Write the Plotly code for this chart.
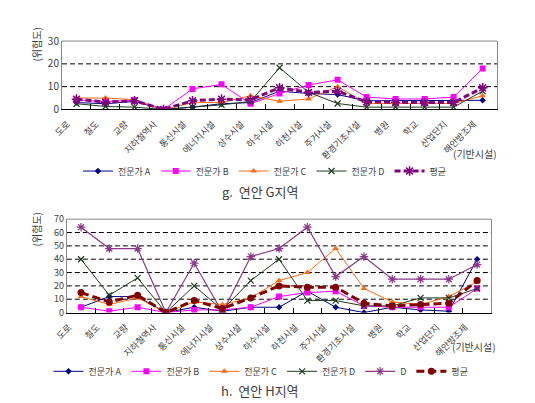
import plotly.graph_objects as go

categories = ["도로", "철도", "교량", "지하철역사", "통신시설", "에너지시설", "상수시설",
              "하수시설", "하천시설", "주거시설", "환경기초시설", "병원", "학교", "산업단지", "해안방조제"]

# g. 연안 G지역
g_a = [3, 2.5, 3.5, 0, 1, 2.5, 3, 8, 7, 6.5, 3.8, 3.8, 3.8, 3.8, 4]
g_b = [4, 3.5, 4, 0, 9, 11, 2.5, 7, 10.7, 13, 5.4, 4.6, 4.6, 5.4, 18]
g_c = [5, 5, 4.3, 0, 3, 3, 6, 3.6, 4.6, 10, 2.6, 2.6, 2.6, 2.6, 6]
g_d = [2.5, 1.3, 1, 0, 1, 2, 3.5, 18.3, 7.5, 2.6, 1, 1, 1, 1, 8]
g_avg = [4.5, 3.2, 3.8, 0, 3.8, 4.5, 4.2, 9.5, 7.5, 8, 3.3, 3, 3, 3, 9.5]

# h. 연안 H지역
h_a = [4, 12, 12, 0, 4, 1, 4, 4, 16, 4, 0, 4, 2, 1, 40]
h_b = [4, 1, 4, 0, 2, 2, 4, 12, 15, 16, 5, 4, 4, 4, 18]
h_c = [12, 6, 11, 0, 8, 6, 11, 24, 30, 48, 18, 8, 6, 12, 23]
h_d_expert = [40, 13, 26, 0, 20, 2, 24, 40, 9, 9, 5, 5, 11, 11, 18]
h_d = [64, 48, 48, 0, 37, 0, 42, 48, 64, 27, 42, 25, 25, 25, 36]
h_avg = [15, 8, 13, 0, 9, 3, 11, 20, 19, 19, 7, 5, 6, 7, 24]

g_grid = [10, 20]
h_grid = [10, 20, 30, 40, 50, 60]

FONT = "Noto Sans CJK KR"
NAVY = "#000080"
MAG = "#FF00FF"
ORA = "#FF6A13"
GRN = "#1E3A1E"
PUR = "#800080"
PUR2 = "#8B3A8B"
RED = "#800000"

fig = go.Figure()

def add(x, y, name, color, symbol, size, width, xa, ya, legend, dash="solid", mline=None):
    marker = dict(color=color, symbol=symbol, size=size)
    if mline is not None:
        marker["line"] = dict(color=color, width=mline)
    fig.add_trace(go.Scatter(x=x, y=y, name=name, mode="lines+markers",
                             line=dict(color=color, width=width, dash=dash),
                             marker=marker, xaxis=xa, yaxis=ya, legend=legend))

add(categories, g_a, "전문가 A", NAVY, "diamond", 5, 1, "x", "y", "legend")
add(categories, g_b, "전문가 B", MAG, "square", 6, 1, "x", "y", "legend")
add(categories, g_c, "전문가 C", ORA, "triangle-up", 6, 1, "x", "y", "legend")
add(categories, g_d, "전문가 D", GRN, "x-thin-open", 6, 1, "x", "y", "legend", mline=1.2)
add(categories, g_avg, "평균", PUR, "asterisk-open", 8, 3, "x", "y", "legend", dash="6px,3px", mline=1.5)

add(categories, h_a, "전문가 A", NAVY, "diamond", 5, 1, "x2", "y2", "legend2")
add(categories, h_b, "전문가 B", MAG, "square", 6, 1, "x2", "y2", "legend2")
add(categories, h_c, "전문가 C", ORA, "triangle-up", 6, 1, "x2", "y2", "legend2")
add(categories, h_d_expert, "전문가 D", GRN, "x-thin-open", 6, 1, "x2", "y2", "legend2", mline=1.2)
add(categories, h_d, "D", PUR2, "asterisk-open", 7, 1.2, "x2", "y2", "legend2", mline=1.2)
add(categories, h_avg, "평균", RED, "circle", 7, 3, "x2", "y2", "legend2", dash="8px,4px")

W, H = 535, 403
def px_x(v): return v / W
def px_y(v): return 1 - v / H

def xaxis_style(shift):
    return dict(type="category", range=[-0.5, 14.5], tickangle=-45, showline=True,
                linecolor="#000000", linewidth=1, ticks="inside", tickson="boundaries",
                ticklen=5, tickcolor="#000000", showgrid=False,
                ticklabelshift=shift, ticklabelstandoff=5,
                tickfont=dict(family=FONT, size=9, color="#404040"))

def yaxis_style(size):
    return dict(showline=True, linecolor="#888888", mirror=True, linewidth=1, ticks="",
                showgrid=False, zeroline=False,
                tickfont=dict(family=FONT, size=size, color="#404040"))

fig.update_layout(
    width=W, height=H, margin=dict(l=0, r=0, t=0, b=0),
    paper_bgcolor="white", plot_bgcolor="white",
    font=dict(family=FONT, size=10, color="#404040"),
    xaxis=dict(domain=[px_x(42), px_x(488)], anchor="y", **xaxis_style(-9)),
    yaxis=dict(domain=[px_y(96), px_y(25)], anchor="x", range=[0, 30], dtick=10, **yaxis_style(10)),
    xaxis2=dict(domain=[px_x(47), px_x(482)], anchor="y2", **xaxis_style(-12)),
    yaxis2=dict(domain=[px_y(307), px_y(210)], anchor="x2", range=[0, 70], dtick=10, **yaxis_style(9)),
    legend=dict(orientation="h", x=px_x(250), xanchor="center", y=px_y(160), yanchor="middle",
                font=dict(family=FONT, size=9, color="#404040"),
                itemwidth=30, tracegroupgap=0, bgcolor="rgba(0,0,0,0)"),
    legend2=dict(orientation="h", x=px_x(246), xanchor="center", y=px_y(368), yanchor="middle",
                 font=dict(family=FONT, size=9, color="#404040"),
                 itemwidth=30, tracegroupgap=0, bgcolor="rgba(0,0,0,0)"),
    showlegend=True,
)

# dashed horizontal gridlines
for ya, grid in (("y", g_grid), ("y2", h_grid)):
    xr = ("x" if ya == "y" else "x2") + " domain"
    for v in grid:
        fig.add_shape(type="line", xref=xr, yref=ya, x0=0, x1=1, y0=v, y1=v, layer="below",
                      line=dict(color="#000000", width=1, dash="5px,3px"))

# top border of each plot area (gray)
for xr, yr in (("x domain", "y domain"), ("x2 domain", "y2 domain")):
    fig.add_shape(type="line", xref=xr, yref=yr, x0=0, x1=1, y0=1, y1=1,
                  line=dict(color="#888888", width=1))

ann = [
    dict(text="(위험도)", x=px_x(16), y=px_y(29), textangle=-90, size=10),
    dict(text="(위험도)", x=px_x(16), y=px_y(221), textangle=-90, size=10),
    dict(text="(기반시설)", x=px_x(465), y=px_y(142), textangle=0, size=10),
    dict(text="(기반시설)", x=px_x(464), y=px_y(342), textangle=0, size=10),
    dict(text="g.  연안 G지역", x=px_x(245), y=px_y(181), textangle=0, size=13),
    dict(text="h.  연안 H지역", x=px_x(245), y=px_y(388), textangle=0, size=13),
]
for a in ann:
    fig.add_annotation(text=a["text"], x=a["x"], y=a["y"], xref="paper", yref="paper",
                       showarrow=False, textangle=a["textangle"], xanchor="center", yanchor="middle",
                       font=dict(family=FONT, size=a["size"], color="#404040"))

fig.write_html("out.html")
